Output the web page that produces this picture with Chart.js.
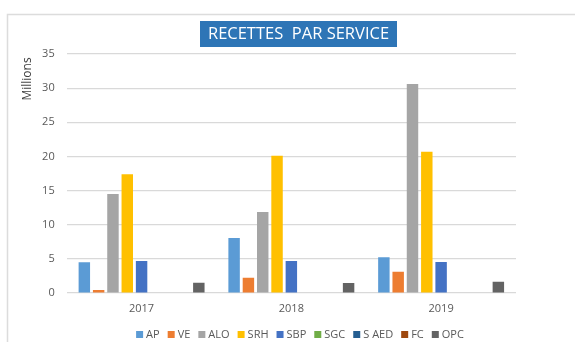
<!DOCTYPE html>
<html>
<head>
<meta charset="utf-8">
<title>Recettes par service</title>
<script src="https://cdn.jsdelivr.net/npm/chart.js@4/dist/chart.umd.min.js"></script>
<style>
  html, body { margin: 0; padding: 0; background: #fff; }
  canvas { display: block; }
</style>
</head>
<body>
<canvas id="chart" width="575" height="342"></canvas>
<script>
const years = ["2017", "2018", "2019"];
const services = ["AP", "VE", "ALO", "SRH", "SBP", "SGC", "S AED", "FC", "OPC"];
const colors = ["#5B9BD5", "#ED7D31", "#A5A5A5", "#FFC000", "#4472C4", "#70AD47", "#255E91", "#9E480E", "#636363"];

// recettes en millions, par service et par année
const ap = [4.5, 8.05, 5.25];
const ve = [0.45, 2.25, 3.1];
const alo = [14.5, 11.85, 30.6];
const srh = [17.4, 20.1, 20.7];
const sbp = [4.7, 4.7, 4.55];
const sgc = [0, 0, 0];
const saed = [0, 0, 0];
const fc = [0, 0, 0];
const opc = [1.5, 1.45, 1.65];

const yMax = 35;
const yStep = 5;

const series = [ap, ve, alo, srh, sbp, sgc, saed, fc, opc];
const font = "'Open Sans', 'DejaVu Sans', sans-serif";
const textColor = "#595959";

// cadre, titre sur fond bleu, unité "Millions" et légende
const decor = {
  id: "decor",
  beforeDraw(chart) {
    const ctx = chart.ctx;
    ctx.save();
    ctx.fillStyle = "#fff";
    ctx.fillRect(0, 0, chart.width, chart.height);
    ctx.strokeStyle = "#DCDCDC";
    ctx.lineWidth = 1.5;
    ctx.strokeRect(7.5, 14.5, chart.width + 10, chart.height + 10);
    ctx.restore();
  },
  afterDraw(chart) {
    const ctx = chart.ctx;
    ctx.save();

    // titre
    ctx.fillStyle = "#2E75B6";
    ctx.fillRect(200, 21, 197, 26);
    ctx.fillStyle = "#fff";
    ctx.font = "16.5px " + font;
    ctx.textAlign = "center";
    ctx.textBaseline = "middle";
    ctx.fillText("RECETTES  PAR SERVICE", 298.5, 34.5);

    // unité de l'axe
    ctx.save();
    ctx.translate(28, 79);
    ctx.rotate(-Math.PI / 2);
    ctx.fillStyle = "#404040";
    ctx.font = "12px " + font;
    ctx.fillText("Millions", 0, 0);
    ctx.restore();

    // légende
    ctx.font = "11px " + font;
    ctx.textAlign = "left";
    const items = chart.data.datasets.map(ds => ({
      label: ds.label,
      color: ds.backgroundColor,
      w: 10 + ctx.measureText(ds.label).width
    }));
    const gap = 8;
    const total = items.reduce((s, it) => s + it.w, 0) + gap * (items.length - 1);
    let x = 300 - total / 2;
    const y = 334.5;
    items.forEach(it => {
      ctx.fillStyle = it.color;
      ctx.fillRect(x, y - 3.5, 7, 7);
      ctx.fillStyle = textColor;
      ctx.fillText(it.label, x + 10, y);
      x += it.w + gap;
    });

    ctx.restore();
  }
};

new Chart(document.getElementById("chart"), {
  type: "bar",
  data: {
    labels: years,
    datasets: services.map((name, i) => ({
      label: name,
      data: series[i],
      backgroundColor: colors[i],
      borderWidth: 0
    }))
  },
  options: {
    responsive: false,
    animation: false,
    layout: { padding: { left: 0, right: 59, top: 54, bottom: 0 } },
    datasets: { bar: { categoryPercentage: 0.86, barPercentage: 0.8 } },
    scales: {
      x: {
        grid: { display: false, drawTicks: false },
        border: { display: false },
        ticks: { color: textColor, font: { family: font, size: 11 }, padding: 9 },
        afterFit(scale) { scale.height = 49; }
      },
      y: {
        min: 0,
        max: yMax,
        grid: { color: "#D9D9D9", lineWidth: 1.2, drawTicks: false },
        border: { display: false },
        ticks: { stepSize: yStep, color: textColor, font: { family: font, size: 11 }, padding: 12 },
        afterFit(scale) { scale.width = 66.7; }
      }
    },
    plugins: {
      legend: { display: false },
      title: { display: false },
      tooltip: { enabled: false }
    }
  },
  plugins: [decor]
});
</script>
</body>
</html>
